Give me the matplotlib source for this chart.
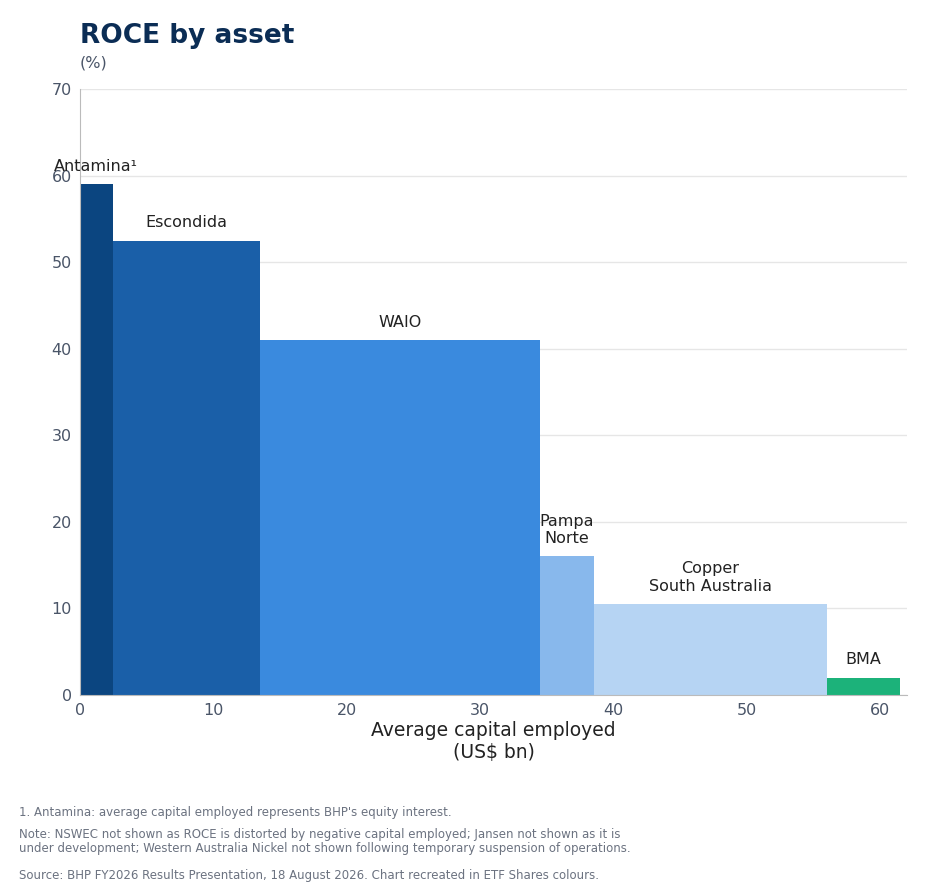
import matplotlib.pyplot as plt

assets = ['Antamina¹', 'Escondida', 'WAIO', 'Pampa\nNorte', 'Copper\nSouth Australia', 'BMA']
capital = [2.5, 11.0, 21.0, 4.0, 17.5, 5.5]
roce = [59.0, 52.5, 41.0, 16.0, 10.5, 2.0]
colors = ['#0b4580', '#1a5fa8', '#3a8ade', '#88b8ec', '#b6d4f3', '#1cb27a']

fig = plt.figure(figsize=(9.36, 8.92), dpi=100)
ax = fig.add_axes([0.0855, 0.221, 0.8835, 0.679])

left = 0
for name, w, h, c in zip(assets, capital, roce, colors):
    ax.bar(left, h, width=w, align='edge', color=c, zorder=2)
    cx = left + w / 2
    if name.startswith('Antamina'):
        cx = 1.2
    ax.text(cx, h + 1.2, name, ha='center', va='bottom', fontsize=11.5, color='#222222', zorder=3)
    left += w

ax.set_xlim(0, 62)
ax.set_ylim(0, 70)
ax.set_xticks(range(0, 61, 10))
ax.set_yticks(range(0, 71, 10))
ax.grid(axis='y', color='#e6e6e6', linewidth=1, zorder=0)
for s in ['top', 'right']:
    ax.spines[s].set_visible(False)
ax.spines['left'].set_color('#bbbbbb')
ax.spines['bottom'].set_color('#bbbbbb')
ax.tick_params(length=0, labelsize=11.5, labelcolor='#4a5568', pad=6)
ax.set_xlabel('Average capital employed\n(US$ bn)', fontsize=13.5, color='#222222', labelpad=2)

fig.text(0.0855, 0.96, 'ROCE by asset', fontsize=19, fontweight='bold', color='#0b2d55', va='center')
fig.text(0.0855, 0.929, '(%)', fontsize=11.5, color='#4a5568', va='center')

notes = [
    (0.082, "1. Antamina: average capital employed represents BHP's equity interest."),
    (0.041, "Note: NSWEC not shown as ROCE is distorted by negative capital employed; Jansen not shown as it is\nunder development; Western Australia Nickel not shown following temporary suspension of operations."),
    (0.011, "Source: BHP FY2026 Results Presentation, 18 August 2026. Chart recreated in ETF Shares colours."),
]
for y, t in notes:
    fig.text(0.02, y, t, fontsize=8.5, color='#6b7280', va='bottom', linespacing=1.1)

fig.savefig('out.png')
